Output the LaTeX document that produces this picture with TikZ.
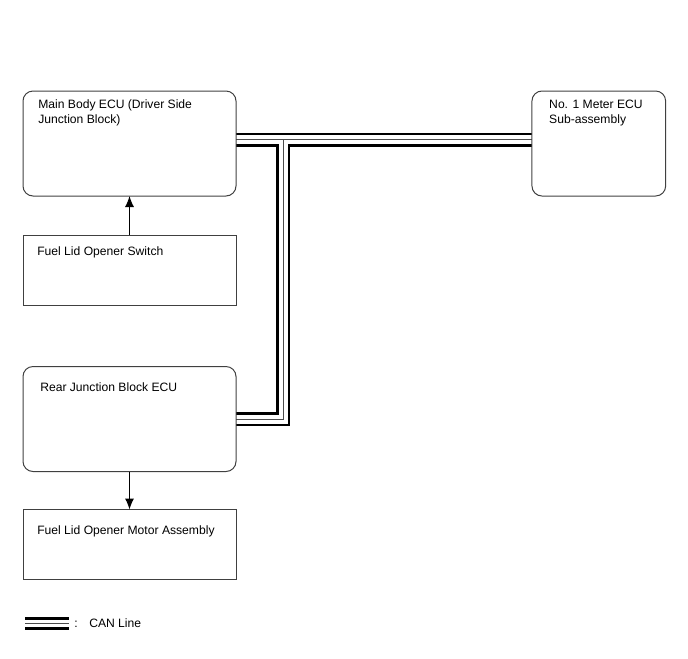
\documentclass[tikz,border=0pt]{standalone}
\usepackage{fontspec}
\setmainfont{Liberation Sans}
\usetikzlibrary{arrows.meta,backgrounds}

\begin{document}
\begin{tikzpicture}[
        x=0.75pt, y=-0.75pt,
        every node/.style={font=\fontsize{9.1}{11.25}\selectfont},
        ecu/.style={rectangle, draw=black!75, line width=0.75pt, rounded corners=7.5pt, minimum width=159.75pt, minimum height=78.75pt, inner sep=0pt, outer sep=0pt},
        part/.style={rectangle, draw=black!75, line width=0.75pt, minimum width=159.75pt, minimum height=52.5pt, inner sep=0pt, outer sep=0pt},
        boxtext/.style={anchor=base west, align=left, inner sep=0pt},
        arrow/.style={-{Latex[length=8.25pt,width=6.75pt]}, line width=0.75pt, draw=black},
        canouter/.style={draw=black, line width=#1}, canouter/.default=10.5pt,
        cangap/.style={draw=white, line width=#1}, cangap/.default=6.75pt,
        canwire/.style={draw=black!70, line width=0.75pt}
        ]
        \useasboundingbox (0,0) rectangle (688,658);

        % ECUs and parts
        \node[ecu] (mainecu) at (129.5, 143.5) {};
        \node[part] (switch) at (129.5, 270) {};
        \node[ecu] (rearecu) at (129.5, 419) {};
        \node[part] (motor) at (129.5, 544.5) {};
        \node[ecu, minimum width=100.25pt] (meterecu) at (598.8, 143.5) {};

        % Texts in the boxes (base = last line)
        \node[boxtext] (mainecutext) at ([shift={(15,32)}]mainecu.north west) {Main Body ECU (Driver Side\\Junction Block)};
        \node[boxtext] (switchtext) at ([shift={(14,20)}]switch.north west) {Fuel Lid Opener Switch};
        \node[boxtext] (rearecutext) at ([shift={(17,25)}]rearecu.north west) {Rear Junction Block ECU};
        \node[boxtext] (motortext) at ([shift={(14,25)}]motor.north west) {Fuel Lid Opener Motor Assembly};
        \node[boxtext] (meterecutext) at ([shift={(17,32)}]meterecu.north west) {No. 1 Meter ECU\\Sub-assembly};

        % Signal arrows
        \draw[arrow] (switch) -- (mainecu);
        \draw[arrow] (rearecu) -- (motor);

        % CAN bus
        \coordinate (canjoint) at ([shift={(47,-4)}]mainecu.east);
        \begin{scope}[on background layer]
            \draw[canouter] (mainecu.east |- canjoint) -- (meterecu.west |- canjoint) (canjoint) |- (rearecu.east);
            \draw[cangap] (mainecu.east |- canjoint) -- (meterecu.west |- canjoint) (canjoint) |- (rearecu.east);
            \draw[canwire] (mainecu.east |- canjoint) -- (meterecu.west |- canjoint) (canjoint) |- (rearecu.east);
        \end{scope}

        % Legend
        \coordinate (cankeyleft) at (25, 623.5);
        \coordinate (cankeyright) at (69, 623.5);
        \draw[canouter=9.75pt] (cankeyleft) -- (cankeyright);
        \draw[cangap=5.25pt] (cankeyleft) -- (cankeyright);
        \draw[canwire] (cankeyleft) -- (cankeyright);
        \node[anchor=west, inner sep=0pt] (cankeycolon) at (74, 624) {:};
        \node[anchor=west, inner sep=0pt] (cankeytext) at (89, 623.5) {CAN Line};

    \end{tikzpicture}
\end{document}
